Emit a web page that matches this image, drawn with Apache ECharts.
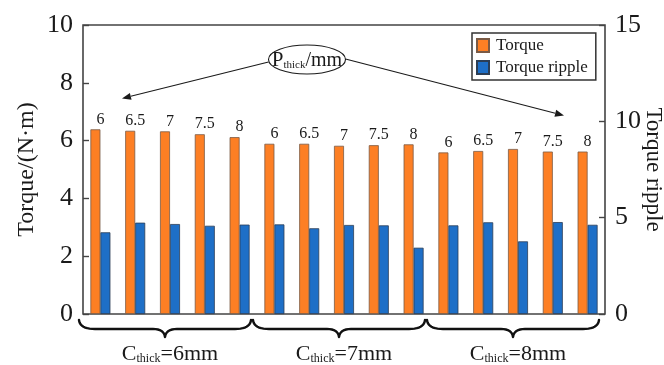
<!DOCTYPE html>
<html>
<head>
<meta charset="utf-8">
<script src="https://cdn.jsdelivr.net/npm/echarts@6/dist/echarts.min.js"></script>
<style>
  html, body { margin: 0; padding: 0; background: #fff; }
  #chart { width: 664px; height: 365px; }
</style>
</head>
<body>
<div id="chart"></div>
<script>
// Magnet thickness groups (C_thick) and pole thickness steps (P_thick) inside each group
const cThick = ['6mm', '7mm', '8mm'];
const pThick = ['6', '6.5', '7', '7.5', '8'];

// Average torque, N·m (left axis)
const torque = [
  6.39, 6.34, 6.32, 6.22, 6.12,
  5.89, 5.89, 5.82, 5.84, 5.87,
  5.59, 5.64, 5.71, 5.62, 5.62
];

// Torque ripple (right axis)
const torqueRipple = [
  4.24, 4.74, 4.67, 4.58, 4.64,
  4.65, 4.45, 4.62, 4.60, 3.44,
  4.60, 4.76, 3.77, 4.77, 4.63
];

// Axis tick settings
const leftTicks = { min: 0, max: 10, interval: 2 };
const rightTicks = { min: 0, max: 15, interval: 5 };

// One category per (C_thick, P_thick) pair
const categories = [];
cThick.forEach(c => pThick.forEach(p => categories.push(c + '/' + p)));

const FONT = "'Liberation Serif', 'Times New Roman', serif";
const INK = '#1a1a1a';
const ORANGE = '#FD7F24';
const BLUE = '#1E6FC7';

const chart = echarts.init(document.getElementById('chart'), null, { renderer: 'canvas' });

chart.setOption({
  animation: false,
  backgroundColor: '#fff',
  textStyle: { fontFamily: FONT, color: INK },
  grid: {
    left: 83, right: 59, top: 25, bottom: 51,
    outerBoundsMode: 'none',
    containLabel: false,
    show: true, borderColor: '#444', borderWidth: 1.6, backgroundColor: 'transparent'
  },
  legend: {
    data: ['Torque', 'Torque ripple'],
    orient: 'vertical',
    left: 472, top: 33,
    itemWidth: 12, itemHeight: 13, itemGap: 5,
    padding: [4, 8, 4, 4],
    borderColor: '#333', borderWidth: 1.5,
    icon: 'rect',
    textStyle: { fontFamily: FONT, fontSize: 17, lineHeight: 16, color: INK, padding: [0, 0, 0, 2] }
  },
  xAxis: [
    {
      type: 'category',
      data: categories,
      axisLine: { show: false },
      axisTick: { show: false },
      axisLabel: { show: false },
      splitLine: { show: false }
    },
    {
      type: 'category',
      data: cThick,
      position: 'bottom',
      axisLine: { show: false },
      axisTick: { show: false },
      splitLine: { show: false },
      axisLabel: {
        margin: 29,
        formatter: v => '{c|C}{s|thick}{n|=' + v + '}',
        rich: {
          c: { fontFamily: FONT, fontSize: 22, color: INK, verticalAlign: 'bottom', lineHeight: 22 },
          s: { fontFamily: FONT, fontSize: 12, color: INK, verticalAlign: 'bottom', lineHeight: 22 },
          n: { fontFamily: FONT, fontSize: 22, color: INK, verticalAlign: 'bottom', lineHeight: 22 }
        }
      }
    }
  ],
  yAxis: [
    {
      type: 'value',
      min: leftTicks.min, max: leftTicks.max, interval: leftTicks.interval,
      name: 'Torque/(N·m)',
      nameLocation: 'middle',
      nameGap: 44,
      nameRotate: 90,
      nameMoveOverlap: false,
      nameTextStyle: { fontFamily: FONT, fontSize: 24, color: INK },
      axisLine: { show: false },
      axisTick: { show: true, inside: true, length: 6, lineStyle: { color: '#444', width: 1.4 } },
      axisLabel: { fontFamily: FONT, fontSize: 26, color: INK, margin: 10 },
      splitLine: { show: false }
    },
    {
      type: 'value',
      min: rightTicks.min, max: rightTicks.max, interval: rightTicks.interval,
      name: 'Torque ripple',
      nameLocation: 'middle',
      nameGap: 37,
      nameRotate: -90,
      nameMoveOverlap: false,
      nameTextStyle: { fontFamily: FONT, fontSize: 23, color: INK },
      axisLine: { show: false },
      axisTick: { show: true, inside: true, length: 6, lineStyle: { color: '#444', width: 1.4 } },
      axisLabel: { fontFamily: FONT, fontSize: 26, color: INK, margin: 10 },
      splitLine: { show: false }
    }
  ],
  series: [
    {
      name: 'Torque',
      type: 'bar',
      xAxisIndex: 0,
      yAxisIndex: 0,
      data: torque,
      barWidth: 10,
      barGap: '0%',
      itemStyle: { color: ORANGE, borderColor: '#7a5a45', borderWidth: 0.8 },
      label: {
        show: true,
        position: 'top',
        distance: 2,
        offset: [5, 0],
        fontFamily: FONT,
        fontSize: 16,
        color: INK,
        formatter: p => pThick[p.dataIndex % pThick.length]
      }
    },
    {
      name: 'Torque ripple',
      type: 'bar',
      xAxisIndex: 0,
      yAxisIndex: 1,
      data: torqueRipple,
      barWidth: 10,
      barGap: '0%',
      itemStyle: { color: BLUE, borderColor: '#2c3e55', borderWidth: 0.8 }
    }
  ]
});

// Decorations: group braces under the axis and the P_thick callout with arrows
function arrow(x0, y0, x1, y1) {
  const ang = Math.atan2(y1 - y0, x1 - x0);
  const len = 9, half = 3.5;
  const bx = x1 - len * Math.cos(ang), by = y1 - len * Math.sin(ang);
  const nx = -Math.sin(ang), ny = Math.cos(ang);
  return [
    { type: 'line', shape: { x1: x0, y1: y0, x2: bx, y2: by }, style: { stroke: INK, lineWidth: 1.1 }, z: 10 },
    { type: 'polygon', shape: { points: [[x1, y1], [bx + nx * half, by + ny * half], [bx - nx * half, by - ny * half]] }, style: { fill: INK }, z: 10 }
  ];
}

// Sample a quadratic Bézier into points
function quad(p0, c, p1, steps, out) {
  for (let i = 1; i <= steps; i++) {
    const t = i / steps, u = 1 - t;
    out.push([u * u * p0[0] + 2 * u * t * c[0] + t * t * p1[0],
              u * u * p0[1] + 2 * u * t * c[1] + t * t * p1[1]]);
  }
}

// Horizontal curly brace opening upward, tip pointing down at xm
function bracePoints(x0, x1, xm, y0) {
  const yh = y0 + 8, yt = y0 + 16;
  const pts = [[x0, y0 - 1]];
  quad([x0, y0 - 1], [x0 + 1, yh], [x0 + 16, yh], 10, pts);
  pts.push([xm - 12, yh]);
  quad([xm - 12, yh], [xm - 1, yh], [xm, yt], 8, pts);
  quad([xm, yt], [xm + 1, yh], [xm + 12, yh], 8, pts);
  pts.push([x1 - 16, yh]);
  quad([x1 - 16, yh], [x1 - 1, yh], [x1, y0 - 1], 10, pts);
  return pts;
}

function drawDecorations() {
  const c0 = chart.convertToPixel({ xAxisIndex: 0 }, 0);
  const c1 = chart.convertToPixel({ xAxisIndex: 0 }, 1);
  const band = c1 - c0;
  const yAxisBase = chart.convertToPixel({ yAxisIndex: 0 }, 0);
  const n = pThick.length;
  const elements = [];
  cThick.forEach((c, g) => {
    const start = chart.convertToPixel({ xAxisIndex: 0 }, g * n) - band / 2;
    const end = chart.convertToPixel({ xAxisIndex: 0 }, g * n + n - 1) + band / 2;
    const mid = (start + end) / 2 - 5;
    elements.push({
      type: 'polyline',
      shape: { points: bracePoints(start - 4, end - 6, mid, yAxisBase + 7) },
      style: { stroke: '#111', lineWidth: 2.4, fill: null, lineCap: 'round', lineJoin: 'round' },
      z: 10
    });
  });

  // P_thick callout
  const ex = 307, ey = 59.5;
  elements.push({
    type: 'ellipse',
    shape: { cx: ex, cy: ey, rx: 38.5, ry: 14.5 },
    style: { fill: '#fff', stroke: INK, lineWidth: 1.1 },
    z: 11
  });
  elements.push({
    type: 'text',
    x: ex, y: ey + 1,
    style: {
      text: '{p|P}{s|thick}{m|/mm}',
      align: 'center',
      verticalAlign: 'middle',
      rich: {
        p: { fontFamily: FONT, fontSize: 21, fill: INK, verticalAlign: 'bottom', lineHeight: 20 },
        s: { fontFamily: FONT, fontSize: 11, fill: INK, verticalAlign: 'bottom', lineHeight: 20 },
        m: { fontFamily: FONT, fontSize: 20, fill: INK, verticalAlign: 'bottom', lineHeight: 20 }
      }
    },
    z: 12
  });
  elements.push(...arrow(268.5, 62, 122, 98.5));
  elements.push(...arrow(345.5, 59, 564, 115.5));

  chart.setOption({ graphic: { elements: elements } });
}

drawDecorations();
</script>
</body>
</html>
